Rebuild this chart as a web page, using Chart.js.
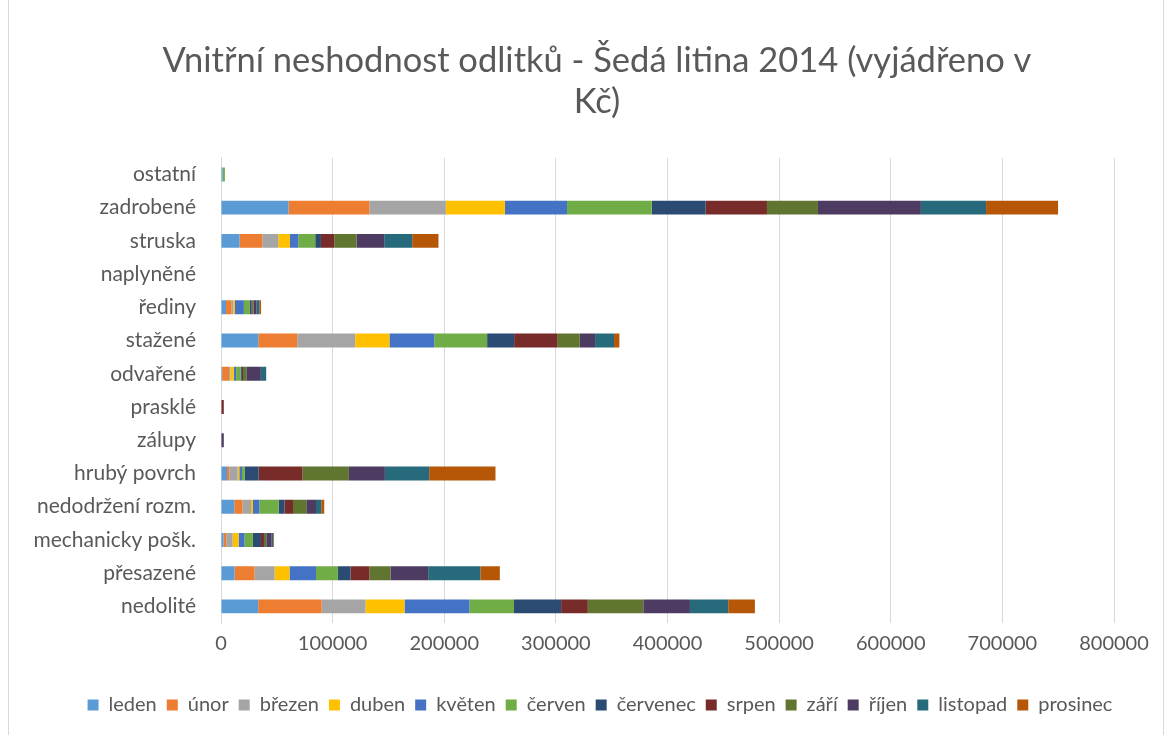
<!DOCTYPE html>
<html>
<head>
<meta charset="utf-8">
<script src="https://cdn.jsdelivr.net/npm/chart.js@4"></script>
<style>
html,body{margin:0;padding:0;background:#fff;}
#wrap{position:relative;width:1170px;height:735px;}
canvas{display:block;}
</style>
</head>
<body>
<div id="wrap"><canvas id="c" width="1170" height="735"></canvas></div>
<script>
const titleLines = ['Vnitřní neshodnost odlitků - Šedá litina 2014 (vyjádřeno v', 'Kč)'];
const categories = ['nedolité','přesazené','mechanicky pošk.','nedodržení rozm.','hrubý povrch','zálupy','prasklé','odvařené','stažené','řediny','naplyněné','struska','zadrobené','ostatní'];
const months = ['leden','únor','březen','duben','květen','červen','červenec','srpen','září','říjen','listopad','prosinec'];
const colors = ['#5B9BD5','#ED7D31','#A5A5A5','#FFC000','#4472C4','#70AD47','#2B4B73','#772C2A','#5F7530','#4D3B62','#276A7C','#B65708'];
const xTicks = [0,100000,200000,300000,400000,500000,600000,700000,800000];

const leden    = [33300, 12200, 2300, 11900, 5400, 0, 0, 1000, 33400, 4500, 0, 16650, 60500, 1500];
const unor     = [56900, 17900, 2400, 7400, 2000, 0, 0, 6200, 34900, 5000, 0, 20330, 72500, 0];
const brezen   = [39300, 17900, 5700, 7600, 7500, 0, 0, 1200, 51900, 1500, 0, 14320, 68400, 0];
const duben    = [34900, 13400, 5400, 1700, 1500, 0, 0, 3000, 30700, 1500, 0, 10480, 52900, 0];
const kveten   = [58200, 23700, 5300, 5700, 2400, 0, 0, 2200, 40100, 8000, 0, 7420, 55700, 0];
const cerven   = [39900, 19600, 7500, 17300, 2300, 0, 0, 3900, 47400, 5400, 0, 15230, 75900, 2000];
const cervenec = [42200, 11300, 7200, 5300, 12600, 0, 0, 1200, 24200, 1500, 0, 5100, 48300, 0];
const srpen    = [23900, 17000, 2700, 7600, 39400, 0, 2500, 1000, 38500, 1000, 0, 11910, 54900, 0];
const zari     = [49700, 18800, 2100, 11900, 41500, 0, 0, 3000, 20300, 1000, 0, 19960, 45700, 0];
const rijen    = [41800, 33800, 4400, 8700, 32200, 2500, 0, 13000, 13700, 2500, 0, 24800, 92200, 0];
const listopad = [34300, 46800, 1800, 4700, 39700, 0, 0, 4800, 17000, 2500, 0, 25070, 58400, 0];
const prosinec = [23900, 17400, 700, 2700, 59400, 0, 0, 0, 4800, 1500, 0, 23550, 64500, 0];

const seriesValues = [leden, unor, brezen, duben, kveten, cerven, cervenec, srpen, zari, rijen, listopad, prosinec];

const FONT = 'Lato, "Open Sans", sans-serif';
const TXT = '#595959';

const borderPlugin = {
  id: 'frame',
  afterLayout(chart) {
    const t = chart.titleBlock;
    if (t) { t.left = 80; t.right = 1114; t.width = t.right - t.left; }
    const lg = chart.legend;
    if (lg) {
      lg.left += 33; lg.right += 33;
      if (lg.adjustHitBoxes) lg.adjustHitBoxes();
    }
  },
  afterDraw(chart) {
    const ctx = chart.ctx;
    ctx.save();
    ctx.strokeStyle = '#d9d9d9';
    ctx.lineWidth = 1;
    ctx.strokeRect(8.5, -2, 1155, 740);
    ctx.restore();
  }
};

new Chart(document.getElementById('c'), {
  type: 'bar',
  data: {
    labels: categories,
    datasets: months.map((m, i) => ({
      label: m,
      data: seriesValues[i],
      backgroundColor: colors[i],
      borderWidth: 0,
      categoryPercentage: 1,
      barPercentage: 0.42
    }))
  },
  plugins: [borderPlugin],
  options: {
    indexAxis: 'y',
    responsive: false,
    animation: false,
    layout: { padding: { left: 20, right: 56, top: 40, bottom: 10 } },
    scales: {
      x: {
        stacked: true,
        min: 0, max: 800000,
        afterBuildTicks(scale) { scale.ticks = xTicks.map(v => ({ value: v })); },
        afterFit(scale) { scale.height = 62; },
        ticks: {
          color: TXT, font: { family: FONT, size: 20 }, padding: 9,
          callback: v => String(v)
        },
        grid: { color: '#d9d9d9', lineWidth: 1, drawTicks: false },
        border: { display: false }
      },
      y: {
        stacked: true,
        reverse: true,
        afterFit(scale) { scale.width = 201; },
        ticks: { color: TXT, font: { family: FONT, size: 21 }, padding: 25, autoSkip: false },
        grid: { display: false, drawTicks: false },
        border: { display: true, color: '#d9d9d9' }
      }
    },
    plugins: {
      title: {
        display: true,
        text: titleLines,
        color: TXT,
        font: { family: FONT, size: 34.5, weight: 'normal', lineHeight: 1.2 },
        padding: { top: 0, bottom: 35 }
      },
      legend: {
        position: 'bottom',
        labels: {
          color: TXT, font: { family: FONT, size: 20 },
          boxWidth: 11, boxHeight: 11, padding: 10
        }
      },
      tooltip: { enabled: false }
    }
  }
});
</script>
</body>
</html>
